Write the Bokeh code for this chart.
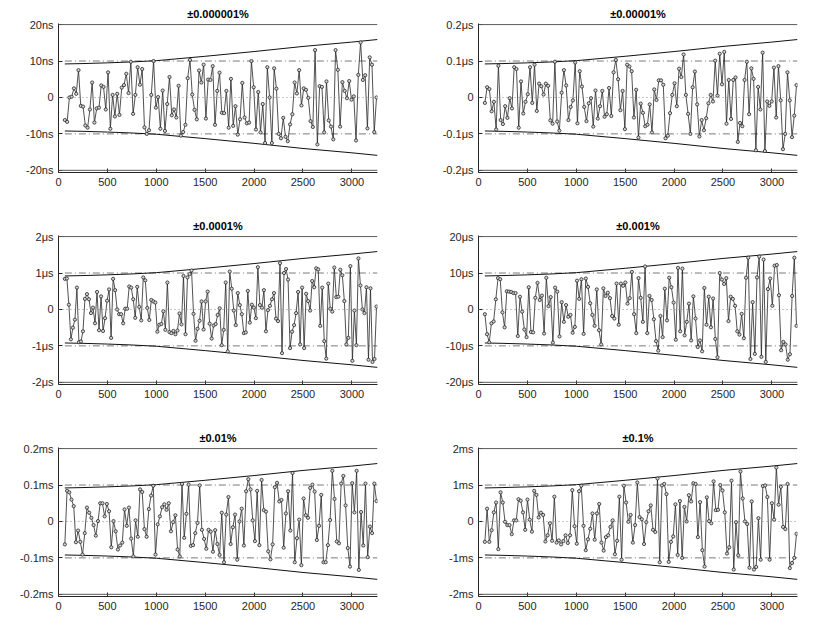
import numpy as np
from bokeh.plotting import figure
from bokeh.layouts import column, row
from bokeh.models import FixedTicker, Range1d, Span
from bokeh.embed import file_html
from bokeh.resources import INLINE

# ---------------- data ----------------
titles = ["±0.000001%", "±0.00001%", "±0.0001%", "±0.001%", "±0.01%", "±0.1%"]

# y tick positions (in panel units, the dash-dot line sits at ±10) and their labels
ytick_vals = [-20, -10, 0, 10, 20]
ytick_labels = [
    ["-20ns", "-10ns", "0", "10ns", "20ns"],
    ["-0.2μs", "-0.1μs", "0", "0.1μs", "0.2μs"],
    ["-2μs", "-1μs", "0", "1μs", "2μs"],
    ["-20μs", "-10μs", "0", "10μs", "20μs"],
    ["-0.2ms", "-0.1ms", "0", "0.1ms", "0.2ms"],
    ["-2ms", "-1ms", "0", "1ms", "2ms"],
]
xtick_vals = [0, 500, 1000, 1500, 2000, 2500, 3000]
x_first, x_last, x_end = 65, 3252, 3262

limit_level = 20      # solid reference line
tol_level = 10        # dash-dot tolerance line

env_x = [65, 250, 500, 750, 1000, 1500, 2000, 2500, 3000, 3262]
env_y = [9.2, 9.3, 9.5, 9.75, 10.1, 11.3, 12.6, 14.0, 15.2, 15.9]

s1 = [-6.2,-6.7,0.0,0.2,2.5,1.0,7.5,-2.3,-2.5,-7.7,
      -8.3,-3.3,4.1,-6.9,-3.0,-2.8,3.3,2.9,-3.3,6.9,
      -8.6,0.7,-5.2,1.0,-4.8,2.7,3.4,6.5,1.2,9.8,
      -4.5,0.7,8.3,3.5,7.8,-8.2,-10.0,-9.0,0.7,10.0,
      -2.8,0.1,-8.6,1.9,-9.2,-1.8,5.6,-4.9,-3.3,-5.5,
      3.2,-10.5,-9.5,-7.5,5.3,10.3,0.8,-3.4,-6.0,7.4,
      4.1,9.0,-5.8,4.9,4.8,8.6,-7.5,1.8,6.8,-4.2,
      -4.3,1.8,-8.3,5.1,-7.8,-2.4,-10.2,-6.0,4.0,-5.5,
      -7.1,-6.9,10.0,2.8,-8.8,1.5,-9.6,-1.8,-12.5,8.3,
      0.0,-12.5,8.0,2.4,-10.0,-11.2,-5.6,-10.8,-12.0,-7.4,
      -4.6,4.1,1.1,7.5,-2.2,2.5,2.1,-0.1,-6.5,-8.1,
      13.0,-12.9,3.1,2.9,-9.6,4.4,-6.3,-8.0,-11.5,13.0,
      7.6,-8.0,4.2,1.8,-0.2,4.5,-0.6,0.3,-11.8,6.2,
      15.1,4.8,6.1,-8.5,11.0,9.0,-9.5,0.0]

s2 = [-1.5,2.8,2.3,-3.8,-1.2,-8.8,8.7,-6.2,-7.3,-2.4,
      -5.6,-0.2,-3.0,8.3,7.8,-8.3,4.4,-4.4,-1.2,0.9,
      8.3,-1.5,9.0,-3.7,3.8,3.1,0.8,3.8,3.2,-6.3,
      -7.2,9.8,-6.6,-9.1,1.3,7.5,3.3,-6.2,-2.6,-0.8,
      9.6,-7.1,7.2,3.0,-2.6,-6.5,-1.6,-0.2,-8.0,1.9,
      -5.8,-2.4,1.8,-5.3,-4.6,2.6,-5.1,6.9,10.3,5.0,
      -3.5,1.8,-8.7,9.0,8.5,7.2,-5.5,2.1,-11.0,-1.7,
      -4.2,-7.9,-7.5,-1.9,-9.6,2.2,-0.7,4.7,4.7,3.5,
      -11.2,-10.5,-4.3,0.7,3.9,-2.4,7.9,5.6,11.8,0.7,
      -4.5,-10.0,2.8,7.1,-1.9,-10.7,-6.2,-9.0,-5.7,-1.6,
      0.7,-1.1,10.1,0.5,12.0,3.6,12.5,-7.2,4.8,-5.9,
      4.8,5.5,-12.2,-7.0,-7.9,4.8,9.8,-4.6,8.0,5.1,
      -14.5,2.9,-3.3,12.3,-14.7,-1.1,-2.3,-1.1,8.2,-5.5,
      8.6,-0.8,-14.2,-10.0,6.9,-0.8,-10.9,-5.0,3.4]

s3 = [8.4,8.5,1.3,-8.2,-5.0,-2.8,6.0,-9.0,-8.8,-6.0,
      2.9,4.2,2.8,-1.0,0.5,-3.8,4.8,-5.7,3.6,-5.9,
      -2.4,2.4,5.5,-7.8,8.4,5.3,0.0,-1.3,-1.3,-3.8,
      0.2,0.2,6.3,6.0,2.8,-2.3,6.2,0.7,-3.0,8.8,
      8.0,0.4,-2.9,2.6,2.2,1.9,-6.1,-4.2,-4.0,-0.5,
      -5.6,7.4,-6.2,-6.5,-5.9,-6.8,-5.8,-1.1,-4.1,9.2,
      -6.8,8.8,9.7,10.7,-1.2,-8.6,-5.3,-3.1,2.2,-5.5,
      2.2,4.9,-3.9,-8.0,-4.4,-4.0,-1.5,0.3,-9.8,-5.6,
      7.4,-11.5,10.4,5.7,-0.3,-4.3,4.5,1.2,-1.3,-6.5,
      -6.3,5.1,-3.6,1.3,0.5,-2.4,11.6,1.2,0.5,5.3,
      -6.0,-0.2,1.0,2.8,4.5,-2.5,-3.2,12.7,-12.0,10.0,
      11.1,8.2,-10.6,-6.1,-4.3,-1.0,4.8,-9.6,6.0,-10.6,
      4.3,2.3,-0.3,7.8,6.1,11.3,11.0,-4.5,6.0,-8.7,
      -13.5,7.1,0.2,-0.6,11.5,3.4,3.5,10.9,9.4,2.3,
      -9.6,-7.8,11.9,-14.1,-0.3,-9.8,14.0,6.6,0.0,-1.0,
      6.1,-13.8,5.8,-14.4,-13.6,0.8]

s4 = [-1.3,-6.8,-9.0,-3.8,-3.3,2.8,8.6,8.3,-0.8,-4.9,
      5.0,4.9,4.8,4.5,4.5,-7.3,3.5,-0.6,-5.5,-7.6,
      6.1,-6.2,-6.3,3.2,7.3,2.6,3.8,-6.6,8.7,0.9,
      3.4,-9.1,6.0,4.9,-7.4,2.0,-3.4,1.2,-2.0,-1.5,
      -6.4,-4.8,7.9,2.9,8.3,-6.7,8.5,6.2,1.7,-1.5,
      -4.5,5.5,-5.7,-9.6,5.8,3.7,4.6,3.1,-1.8,-2.5,
      7.1,-4.2,7.1,6.5,7.4,1.6,3.1,10.3,-1.3,-6.5,
      8.6,3.2,-3.4,11.8,-6.5,3.7,2.6,-2.7,-8.7,-11.3,
      -1.8,-7.6,5.7,-3.0,8.7,6.1,1.9,-8.3,11.4,-6.0,
      11.2,-7.1,-3.4,1.6,-8.5,3.6,-2.5,-10.3,-8.5,-11.5,
      5.9,-4.2,3.5,-4.9,3.0,-8.1,-13.1,10.0,8.2,7.0,
      8.6,-3.2,3.5,2.9,1.0,-6.0,-6.9,-1.2,-7.9,8.7,
      14.2,-13.6,2.0,-12.2,8.8,14.5,-13.0,13.7,-14.4,5.6,
      8.5,1.0,12.0,12.2,3.9,-11.2,-8.9,-9.6,-13.8,-12.3,
      3.7,14.2,-4.5]

s5 = [-6.3,8.4,8.0,6.0,4.2,-5.7,-2.5,-5.6,-9.1,-3.2,
      3.8,2.4,1.0,-1.0,-3.9,0.1,5.0,5.0,1.4,4.8,
      2.8,-7.1,0.1,-2.7,-7.7,-6.6,-5.8,3.3,-1.2,3.8,
      -4.7,-9.6,0.3,-4.2,8.8,8.1,-2.1,-4.2,3.4,7.1,
      9.8,-9.1,-0.8,1.4,3.9,4.7,3.2,5.0,-2.7,-0.2,
      1.7,-7.7,-9.6,10.3,-4.5,2.1,10.1,-6.7,-6.5,-3.2,
      -0.4,9.9,-2.3,-4.8,-7.5,-2.3,-2.8,-8.3,-2.4,-6.2,
      -9.2,2.4,-11.2,1.9,6.7,-6.2,-1.6,1.9,-10.5,0.0,
      3.5,-6.6,8.3,11.6,8.8,0.3,-5.4,8.4,-6.5,11.4,
      3.1,2.7,-8.2,-10.4,-6.3,9.4,10.6,5.5,5.9,-7.2,
      2.2,8.3,-2.5,13.3,-11.2,-4.6,0.5,-12.0,6.3,1.7,
      1.0,9.2,10.1,8.2,-5.1,-1.2,7.3,-11.2,-11.2,-6.5,
      0.4,13.9,6.2,-5.5,-6.0,10.4,12.5,4.4,-7.3,-12.4,
      10.5,2.5,13.9,-13.3,2.6,-6.6,10.4,-9.8,-1.4,-3.2,
      10.4,5.6]

s6 = [-5.6,3.5,-5.6,-2.4,2.5,5.2,-7.6,8.0,5.2,-0.1,
      -1.0,-1.0,-3.5,0.3,0.3,6.1,5.7,2.5,-2.3,6.0,
      0.5,-2.8,8.4,7.3,1.1,2.4,1.8,-5.5,-3.8,-0.5,
      -5.3,6.8,-5.8,-5.2,-6.3,-5.4,-3.8,-5.9,-3.8,8.6,
      -1.3,-6.1,8.3,9.8,-1.2,-7.9,-4.9,-2.0,2.2,-5.0,
      2.2,4.8,-5.8,-8.0,-4.3,-3.8,-1.5,0.3,-9.0,-5.3,
      6.8,-10.5,9.8,5.2,-0.1,1.8,-5.8,-1.0,10.7,1.2,
      0.6,-6.2,-0.2,2.8,4.4,-2.3,-2.9,11.8,-11.2,9.9,
      10.3,7.5,-11.1,-5.6,-4.1,4.7,-9.2,5.6,-10.0,4.0,
      0.0,7.2,5.5,10.5,10.3,-4.3,5.3,-7.9,-12.4,6.6,
      0.1,-0.5,11.0,3.1,3.2,10.0,8.5,2.5,-8.8,-7.1,
      11.2,-13.2,-0.2,-9.3,13.7,6.3,0.0,-0.7,-12.7,5.5,
      -13.2,-12.5,0.9,-10.5,9.7,9.9,6.7,-10.5,5.0,0.5,
      14.8,4.6,9.5,-1.5,-2.1,10.3,-12.8,-11.4,-10.0,-3.4]

series = [s1, s2, s3, s4, s5, s6]

# ---------------- style ----------------
FONT = "Liberation Sans"
AX = "#262626"
FRAME_W = 319
FRAME_H = 149


def make_panel(i):
    col = i % 2
    r = i // 2
    width = 423 if col == 0 else 398
    left = 58 if col == 0 else 55
    height = 212 if r < 2 else 200
    top = 23
    p = figure(width=width, height=height,
               x_range=Range1d(0, x_end), y_range=Range1d(-20.6, 20.3),
               output_backend="svg", toolbar_location=None,
               min_border_left=left, min_border_right=width - left - FRAME_W,
               min_border_top=top, min_border_bottom=height - top - FRAME_H)
    p.title.text = titles[i]
    p.title.align = "center"
    p.title.text_font = FONT
    p.title.text_font_size = "11px"
    p.title.text_font_style = "bold"
    p.title.text_color = "#000000"
    p.title.standoff = 7
    p.xgrid.visible = False
    p.ygrid.visible = False
    p.outline_line_color = None
    p.background_fill_color = "white"
    p.border_fill_color = "white"

    for ax in (p.xaxis[0], p.yaxis[0]):
        ax.axis_line_color = AX
        ax.major_tick_line_color = AX
        ax.major_tick_in = 4
        ax.major_tick_out = 0
        ax.minor_tick_in = 0
        ax.minor_tick_out = 0
        ax.major_label_text_font = FONT
        ax.major_label_text_font_size = "11px"
        ax.major_label_text_color = AX
        ax.major_label_standoff = 5
    p.xaxis.ticker = FixedTicker(ticks=xtick_vals)
    p.yaxis.ticker = FixedTicker(ticks=ytick_vals)
    p.yaxis.major_label_overrides = {v: lab for v, lab in zip(ytick_vals, ytick_labels[i])}

    # reference lines
    for lv in (limit_level, -limit_level):
        p.add_layout(Span(location=lv, dimension="width", line_color="#5a5a5a", line_width=1))
    p.add_layout(Span(location=0, dimension="width", line_color="#8a8a8a",
                      line_width=1, line_dash="1 3"))
    for lv in (tol_level, -tol_level):
        p.line([x_first, x_end], [lv, lv], line_color="#7a7a7a", line_width=1,
               line_dash="7 3 1 3")

    # envelopes
    p.line(env_x, env_y, line_color="#111111", line_width=1)
    p.line(env_x, [-v for v in env_y], line_color="#111111", line_width=1)

    # data
    ys = series[i]
    xs = np.linspace(x_first, x_last, len(ys))
    p.line(xs, ys, line_color="#262626", line_width=0.8)
    p.scatter(xs, ys, marker="circle", size=3.2, line_color="#262626",
              fill_color="#d4d4d4", line_width=0.8)
    return p


panels = [make_panel(i) for i in range(6)]
layout = column(row(panels[0], panels[1]), row(panels[2], panels[3]), row(panels[4], panels[5]))

open("out.html", "w").write(file_html(layout, INLINE))
